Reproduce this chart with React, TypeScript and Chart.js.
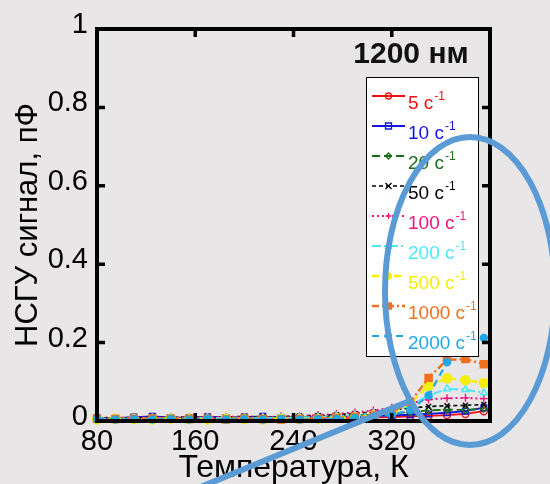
import React, { useEffect, useRef } from "react";
import { Chart, registerables } from "chart.js";

Chart.register(...registerables);

// Temperature grid, K
const temperatures = [80, 95, 110, 125, 140, 155, 170, 185, 200, 215, 230, 245, 260, 275, 290, 305, 320, 335, 350, 365, 380, 395];

// DLTS signal, pF, for each rate window
const rate5 = [0.006, 0.005, 0.007, 0.006, 0.005, 0.007, 0.006, 0.008, 0.006, 0.005, 0.007, 0.006, 0.007, 0.008, 0.008, 0.009, 0.010, 0.012, 0.013, 0.015, 0.018, 0.025];
const rate10 = [0.008, 0.007, 0.010, 0.012, 0.009, 0.008, 0.011, 0.009, 0.010, 0.012, 0.008, 0.009, 0.010, 0.011, 0.012, 0.013, 0.014, 0.016, 0.018, 0.021, 0.025, 0.034];
const rate20 = [0.007, 0.006, 0.008, 0.007, 0.009, 0.008, 0.007, 0.009, 0.008, 0.010, 0.009, 0.010, 0.011, 0.012, 0.014, 0.016, 0.019, 0.023, 0.027, 0.029, 0.028, 0.032];
const rate50 = [0.008, 0.009, 0.007, 0.010, 0.008, 0.011, 0.009, 0.010, 0.012, 0.010, 0.011, 0.013, 0.014, 0.016, 0.019, 0.023, 0.028, 0.033, 0.037, 0.039, 0.040, 0.042];
const rate100 = [0.006, 0.008, 0.009, 0.007, 0.010, 0.008, 0.009, 0.011, 0.010, 0.009, 0.012, 0.013, 0.015, 0.018, 0.022, 0.027, 0.034, 0.045, 0.055, 0.058, 0.059, 0.057];
const rate200 = [0.007, 0.005, 0.006, 0.008, 0.007, 0.006, 0.008, 0.007, 0.006, 0.008, 0.007, 0.009, 0.010, 0.012, 0.015, 0.019, 0.026, 0.040, 0.065, 0.082, 0.080, 0.072];
const rate500 = [0.004, 0.006, 0.005, 0.004, 0.006, 0.005, 0.004, 0.006, 0.005, 0.004, 0.006, 0.005, 0.006, 0.008, 0.010, 0.014, 0.022, 0.045, 0.090, 0.109, 0.104, 0.097];
const rate1000 = [0.006, 0.005, 0.006, 0.007, 0.006, 0.005, 0.006, 0.004, 0.006, 0.005, 0.004, 0.005, 0.006, 0.008, 0.010, 0.014, 0.022, 0.048, 0.110, 0.156, 0.158, 0.145];
const rate2000 = [0.005, 0.004, 0.005, 0.004, 0.005, 0.004, 0.005, 0.004, 0.005, 0.004, 0.005, 0.004, 0.005, 0.006, 0.008, 0.011, 0.016, 0.028, 0.065, 0.150, 0.200, 0.212];

const rateLabels = ["5", "10", "20", "50", "100", "200", "500", "1000", "2000"];
const xTicks = [80, 160, 240, 320];
const yTicks = [0, 0.2, 0.4, 0.6, 0.8, 1];

const FONT = "'Liberation Sans', Arial, sans-serif";
const BG = "#e8e6e6";

type SeriesStyle = {
  color: string;
  dash: number[];
  point: string;
  filled: boolean;
  width: number;
  radius: number;
};

const styles: SeriesStyle[] = [
  { color: "#ee1111", dash: [], point: "circle", filled: false, width: 1.8, radius: 3.5 },
  { color: "#1515e0", dash: [], point: "rect", filled: false, width: 1.8, radius: 4 },
  { color: "#1d6b1d", dash: [8, 4], point: "rectRot", filled: false, width: 1.8, radius: 3.5 },
  { color: "#000000", dash: [4, 3], point: "crossRot", filled: false, width: 1.6, radius: 3.5 },
  { color: "#f0147f", dash: [2, 3], point: "cross", filled: false, width: 2, radius: 4 },
  { color: "#4de8f8", dash: [9, 3, 2, 3], point: "triangle", filled: false, width: 2, radius: 4 },
  { color: "#f4ee0a", dash: [7, 4], point: "circle", filled: true, width: 2.4, radius: 4.5 },
  { color: "#f07020", dash: [7, 3, 2, 3], point: "rect", filled: true, width: 2.4, radius: 5 },
  { color: "#1ea8e6", dash: [7, 5], point: "circle", filled: true, width: 2.2, radius: 3.5 },
];

const seriesValues = [rate5, rate10, rate20, rate50, rate100, rate200, rate500, rate1000, rate2000];

// small marker glyph for a legend row
function drawMarker(ctx: CanvasRenderingContext2D, st: SeriesStyle, x: number, y: number, r: number) {
  ctx.save();
  ctx.setLineDash([]);
  ctx.strokeStyle = st.color;
  ctx.fillStyle = st.color;
  ctx.lineWidth = 1.3;
  ctx.beginPath();
  switch (st.point) {
    case "circle":
      ctx.arc(x, y, r, 0, Math.PI * 2);
      break;
    case "rect":
      ctx.rect(x - r, y - r, 2 * r, 2 * r);
      break;
    case "rectRot":
      ctx.moveTo(x, y - r);
      ctx.lineTo(x + r, y);
      ctx.lineTo(x, y + r);
      ctx.lineTo(x - r, y);
      ctx.closePath();
      break;
    case "triangle":
      ctx.moveTo(x, y - r);
      ctx.lineTo(x + r, y + r * 0.8);
      ctx.lineTo(x - r, y + r * 0.8);
      ctx.closePath();
      break;
    case "cross":
      ctx.moveTo(x - r, y);
      ctx.lineTo(x + r, y);
      ctx.moveTo(x, y - r);
      ctx.lineTo(x, y + r);
      break;
    case "crossRot":
      ctx.moveTo(x - r, y - r);
      ctx.lineTo(x + r, y + r);
      ctx.moveTo(x + r, y - r);
      ctx.lineTo(x - r, y + r);
      break;
  }
  if (st.filled) ctx.fill();
  ctx.stroke();
  ctx.restore();
}

// Frame, inward tick marks, legend box, sample label and the highlight ellipse
const decorPlugin = {
  id: "decor",
  afterDatasetsDraw(chart: any) {
    const { ctx, chartArea } = chart;
    const { left, right, top, bottom } = chartArea;
    const xs = chart.scales.x;
    const ys = chart.scales.y;
    ctx.save();
    ctx.strokeStyle = "#000";
    ctx.lineWidth = 4;
    ctx.setLineDash([]);
    ctx.strokeRect(left, top, right - left, bottom - top);

    ctx.lineWidth = 3.5;
    const tl = 8;
    ctx.beginPath();
    for (const v of yTicks) {
      if (v === 0 || v === 1) continue;
      const y = ys.getPixelForValue(v);
      ctx.moveTo(left, y);
      ctx.lineTo(left + tl, y);
      ctx.moveTo(right, y);
      ctx.lineTo(right - tl, y);
    }
    for (const v of xTicks) {
      if (v === 80) continue;
      const x = xs.getPixelForValue(v);
      ctx.moveTo(x, bottom);
      ctx.lineTo(x, bottom - tl);
      ctx.moveTo(x, top);
      ctx.lineTo(x, top + tl);
    }
    ctx.stroke();

    // legend box
    const bx = right - 124;
    const by = top + 48;
    const bw = 112;
    const bh = 279;
    ctx.fillStyle = "#ffffff";
    ctx.fillRect(bx, by, bw, bh);
    ctx.lineWidth = 1;
    ctx.strokeStyle = "#000";
    ctx.strokeRect(bx + 0.5, by + 0.5, bw, bh);

    for (let i = 0; i < seriesValues.length; i++) {
      const st = styles[i];
      const ly = by + 19 + i * 30;
      const x0 = bx + 6;
      const x1 = bx + 39;
      ctx.strokeStyle = st.color;
      ctx.lineWidth = st.width;
      ctx.setLineDash(st.dash);
      ctx.beginPath();
      ctx.moveTo(x0, ly);
      ctx.lineTo(x1, ly);
      ctx.stroke();
      drawMarker(ctx, st, (x0 + x1) / 2, ly, 3);
      ctx.fillStyle = st.color;
      ctx.textBaseline = "alphabetic";
      ctx.textAlign = "left";
      ctx.font = `19px ${FONT}`;
      const main = `${rateLabels[i]} c`;
      ctx.fillText(main, bx + 42, ly + 13);
      const w = ctx.measureText(main).width;
      ctx.font = `12px ${FONT}`;
      ctx.fillText("-1", bx + 43 + w, ly + 4);
    }

    // sample wavelength label
    ctx.fillStyle = "#111";
    ctx.font = `bold 30px ${FONT}`;
    ctx.textAlign = "center";
    ctx.textBaseline = "middle";
    ctx.fillText("1200 нм", right - 79, top + 26);
    ctx.restore();
  },
  afterDraw(chart: any) {
    const { ctx } = chart;
    ctx.save();
    ctx.strokeStyle = "#5b9bd5";
    ctx.lineWidth = 6;
    ctx.beginPath();
    ctx.ellipse(470, 291, 85, 154, 0, 0, Math.PI * 2);
    ctx.stroke();
    ctx.beginPath();
    ctx.moveTo(198, 488);
    ctx.lineTo(412, 400);
    ctx.stroke();
    ctx.restore();
  },
};

export default function App() {
  const canvasRef = useRef<HTMLCanvasElement | null>(null);

  useEffect(() => {
    const canvas = canvasRef.current;
    if (!canvas) return;
    const datasets = seriesValues.map((vals, i) => {
      const st = styles[i];
      return {
        label: `${rateLabels[i]} c-1`,
        data: temperatures.map((t, k) => ({ x: t, y: vals[k] })),
        borderColor: st.color,
        backgroundColor: st.filled ? st.color : "rgba(0,0,0,0)",
        borderWidth: st.width,
        borderDash: st.dash,
        pointStyle: st.point,
        pointRadius: st.radius,
        pointBorderWidth: 1.4,
        pointBorderColor: st.color,
        pointBackgroundColor: st.filled ? st.color : "rgba(0,0,0,0)",
        tension: 0,
        fill: false,
        clip: 8,
        order: 8 - i,
      };
    });

    const chart = new Chart(canvas, {
      type: "line",
      data: { datasets },
      plugins: [decorPlugin],
      options: {
        animation: false,
        responsive: false,
        maintainAspectRatio: false,
        layout: { padding: { top: 29, right: 60, left: 0, bottom: 0 } },
        plugins: {
          legend: { display: false },
          tooltip: { enabled: false },
        },
        scales: {
          x: {
            type: "linear",
            min: 80,
            max: 400,
            afterBuildTicks: (scale: any) => {
              scale.ticks = xTicks.map((v) => ({ value: v }));
            },
            afterFit: (scale: any) => {
              scale.height = 63;
            },
            ticks: {
              color: "#000",
              font: { family: FONT, size: 29 },
              padding: 4,
              maxRotation: 0,
              autoSkip: false,
            },
            grid: { display: false, drawTicks: false },
            border: { display: false },
            title: {
              display: true,
              text: "Температура, К",
              color: "#000",
              font: { family: FONT, size: 32 },
              padding: { top: 0, bottom: -3 },
            },
          },
          y: {
            type: "linear",
            min: 0,
            max: 1,
            afterBuildTicks: (scale: any) => {
              scale.ticks = yTicks.map((v) => ({ value: v }));
            },
            afterFit: (scale: any) => {
              scale.width = 97;
            },
            ticks: {
              color: "#000",
              font: { family: FONT, size: 29 },
              padding: 9,
              labelOffset: -4,
              callback: (v: any) => String(Number(Number(v).toFixed(1))),
            },
            grid: { display: false, drawTicks: false },
            border: { display: false },
            title: {
              display: true,
              text: "НСГУ сигнал, пФ",
              color: "#000",
              font: { family: FONT, size: 31 },
              padding: { top: 10, bottom: 0 },
            },
          },
        },
      },
    });
    return () => chart.destroy();
  }, []);

  return (
    <div style={{ position: "fixed", left: 0, top: 0, width: 550, height: 484, background: BG }}>
      <canvas ref={canvasRef} width={550} height={484} style={{ display: "block" }} />
    </div>
  );
}
